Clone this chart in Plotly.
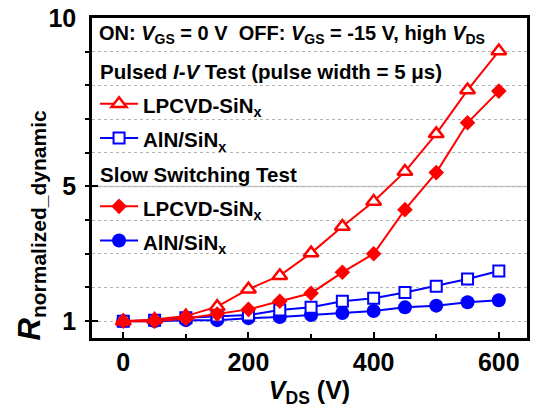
import plotly.graph_objects as go

# ---- data ----
vds = [0, 50, 100, 150, 200, 250, 300, 350, 400, 450, 500, 550, 600]
pulsed_lpcvd = [1.0, 1.05, 1.15, 1.43, 1.95, 2.35, 3.02, 3.81, 4.55, 5.44, 6.56, 7.86, 9.02]
pulsed_aln = [1.0, 1.03, 1.10, 1.15, 1.18, 1.33, 1.41, 1.59, 1.68, 1.85, 2.04, 2.25, 2.49]
slow_lpcvd = [1.0, 1.0, 1.08, 1.21, 1.35, 1.59, 1.83, 2.45, 3.00, 4.31, 5.41, 6.89, 7.83]
slow_aln = [1.0, 1.0, 1.03, 1.03, 1.09, 1.12, 1.18, 1.24, 1.30, 1.41, 1.46, 1.56, 1.62]

x_ticks = [0, 200, 400, 600]
y_ticks = [1, 5, 10]
solid_grid_y = 5

RED = "#FF0000"
BLUE = "#0000FF"
FONT = "Liberation Sans, Arial, sans-serif"


def sz(t, px=20.5):
    return f"<span style='font-size:{px}px'>{t}</span>"


HEADER = "ON: <i>V</i><sub>GS</sub> = 0 V  OFF: <i>V</i><sub>GS</sub> = -15 V, high <i>V</i><sub>DS</sub>"
GROUP1 = sz("Pulsed <i>I-V</i> Test (pulse width = 5 μs)")
GROUP2 = sz("Slow Switching Test")
NAME_LP = sz("LPCVD-SiN<sub>x</sub>")
NAME_AL = sz("AlN/SiN<sub>x</sub>")

fig = go.Figure()

# draw order: circles, squares, triangles, diamonds (diamonds on top)
fig.add_trace(go.Scatter(
    x=vds, y=slow_aln, mode="lines+markers", name=NAME_AL,
    legendgroup="slow", legendgrouptitle=dict(text=GROUP2, font=dict(size=24, color="black")),
    legendrank=4,
    line=dict(color=BLUE, width=2),
    marker=dict(symbol="circle", size=14, color=BLUE, line=dict(width=0)),
))
fig.add_trace(go.Scatter(
    x=vds, y=pulsed_aln, mode="lines+markers", name=NAME_AL,
    legendgroup="pulsed", legendgrouptitle=dict(text=GROUP1, font=dict(size=24, color="black")),
    legendrank=2,
    line=dict(color=BLUE, width=2),
    marker=dict(symbol="square", size=11, color="white", line=dict(color=BLUE, width=2)),
))
fig.add_trace(go.Scatter(
    x=vds, y=pulsed_lpcvd, mode="lines+markers", name=NAME_LP,
    legendgroup="pulsed", legendgrouptitle=dict(text=GROUP1, font=dict(size=24, color="black")),
    legendrank=1,
    line=dict(color=RED, width=2),
    marker=dict(symbol="triangle-up", size=13, color="white", line=dict(color=RED, width=2.5)),
))
fig.add_trace(go.Scatter(
    x=vds, y=slow_lpcvd, mode="lines+markers", name=NAME_LP,
    legendgroup="slow", legendgrouptitle=dict(text=GROUP2, font=dict(size=24, color="black")),
    legendrank=3,
    line=dict(color=RED, width=2),
    marker=dict(symbol="diamond", size=12, color=RED, line=dict(width=0)),
))

fig.add_hline(y=solid_grid_y, line=dict(color="#c8c8c8", width=1.5), layer="below")

fig.update_layout(
    width=534, height=414,
    margin=dict(l=92, r=4, t=17, b=76),
    paper_bgcolor="white", plot_bgcolor="white",
    font=dict(family=FONT, size=20, color="black", weight="bold"),
    legend=dict(
        x=0.007, y=0.908, xanchor="left", yanchor="top",
        bgcolor="rgba(0,0,0,0)", borderwidth=0,
        font=dict(size=24, family=FONT, weight="bold"),
        traceorder="grouped", tracegroupgap=0,
        itemwidth=38,
    ),
    xaxis=dict(
        range=[-50, 645], tickvals=x_ticks,
        ticks="inside", ticklen=6, tickwidth=2, tickcolor="black",
        minor=dict(dtick=100, tick0=0, ticks="inside", ticklen=4, tickwidth=2, tickcolor="black", showgrid=False),
        showline=True, linewidth=2.5, linecolor="black", mirror=True,
        showgrid=False, zeroline=False,
        tickfont=dict(size=25),
        title=dict(text="<i>V</i><sub>DS</sub> (V)", font=dict(size=25), standoff=4),
    ),
    yaxis=dict(
        range=[0.5, 10], tickvals=y_ticks,
        ticks="inside", ticklen=6, tickwidth=2, tickcolor="black",
        minor=dict(dtick=1, tick0=0, ticks="outside", ticklen=4, tickwidth=2, tickcolor="black",
                   showgrid=True, gridcolor="#b4b4b4", griddash="dot", gridwidth=1),
        showgrid=True, gridcolor="#b4b4b4", griddash="dot", gridwidth=1,
        showline=True, linewidth=2.5, linecolor="black", mirror=True,
        zeroline=False,
        tickfont=dict(size=25),
        ticklabelstandoff=8,
    ),
    annotations=[
        dict(
            text="<i>R</i><sub><span style='font-size:21px'>normalized_dynamic</span></sub>",
            textangle=-90, xref="paper", yref="paper",
            x=-0.14, y=0.352, xanchor="center", yanchor="middle",
            showarrow=False, font=dict(size=31),
        ),
        dict(
            text=HEADER, xref="paper", yref="paper",
            x=0.012, y=0.95, xanchor="left", yanchor="middle",
            showarrow=False, font=dict(size=20),
        ),
    ],
)

fig.write_html("out.html")
